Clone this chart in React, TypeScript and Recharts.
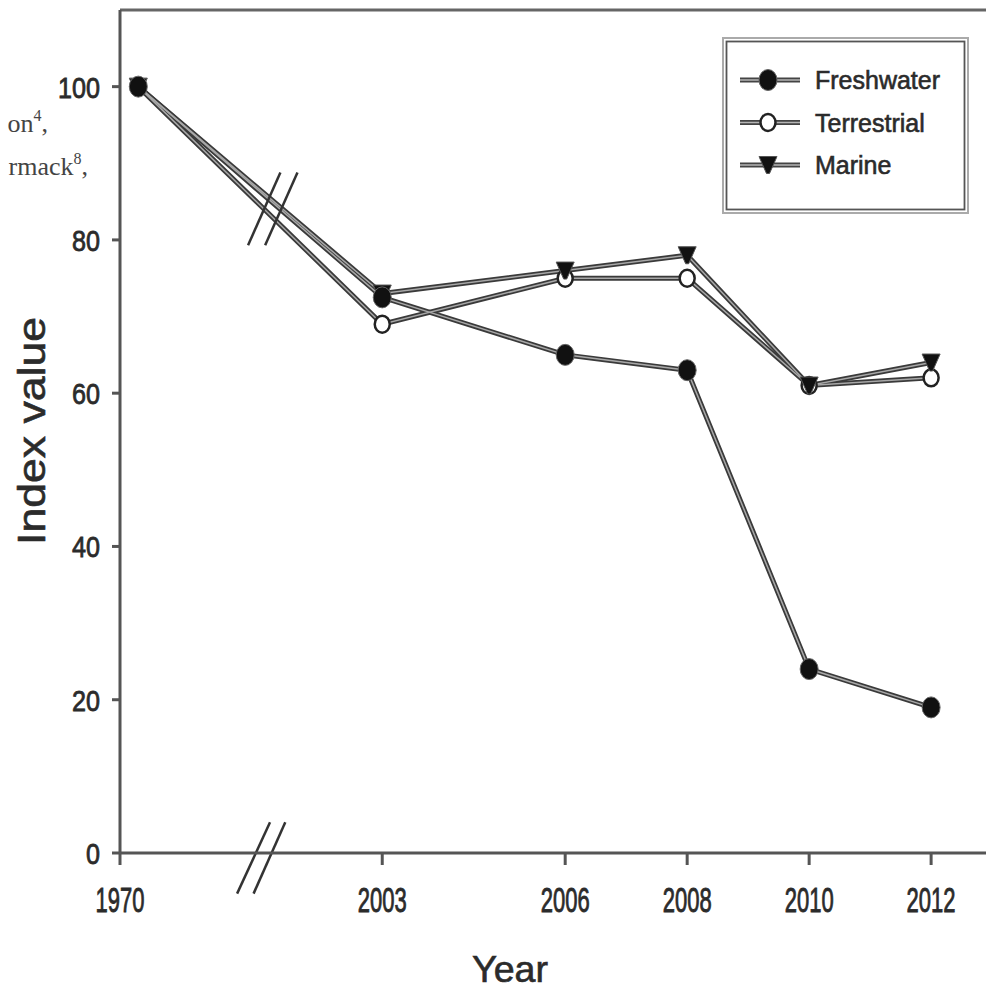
import React from "react";
import { Legend, Line, LineChart, ReferenceLine, XAxis, YAxis } from "recharts";

// positions on the x axis: 1970 sits just right of the axis break
const yearLabels = ["1970", "2003", "2006", "2008", "2010", "2012"];
const xPositions = [1999, 2003, 2006, 2008, 2010, 2012];
const tickPositions = [1998.7, 2003, 2006, 2008, 2010, 2012];
const yTicks = [0, 20, 40, 60, 80, 100];

const freshwater = [100, 72.5, 65, 63, 24, 19];
const terrestrial = [100, 69, 75, 75, 61, 62];
const marine = [100, 73, 76, 78, 61, 64];

// axis-break slashes, in data units
const lineBreak = [
  [2000.8, 79.3, 2001.33, 88.8],
  [2001.08, 79.3, 2001.61, 88.8],
];
const axisBreak = [
  [2000.62, -5.3, 2001.16, 4],
  [2000.89, -5.3, 2001.41, 4],
];

type Marker = "filled" | "open" | "triangle";

const series: { key: string; name: string; marker: Marker }[] = [
  { key: "terrestrial", name: "Terrestrial", marker: "open" },
  { key: "marine", name: "Marine", marker: "triangle" },
  { key: "freshwater", name: "Freshwater", marker: "filled" },
];
const legendOrder = ["freshwater", "terrestrial", "marine"];

const data = xPositions.map((x, i) => ({
  x,
  year: yearLabels[i],
  freshwater: freshwater[i],
  terrestrial: terrestrial[i],
  marine: marine[i],
}));

const FONT = "'Liberation Sans', Arial, Helvetica, sans-serif";
const INK = "#2b2b2b";

function MarkerShape({ type, cx, cy }: { type: Marker; cx: number; cy: number }) {
  if (type === "filled") {
    return <ellipse cx={cx} cy={cy} rx={9} ry={10.5} fill="#111" stroke="#666" strokeWidth={1} />;
  }
  if (type === "open") {
    return <ellipse cx={cx} cy={cy} rx={7.5} ry={8.5} fill="#fff" stroke="#222" strokeWidth={2.5} />;
  }
  return (
    <path
      d={`M${cx - 9},${cy - 8.5} L${cx + 9},${cy - 8.5} L${cx + 1.5},${cy + 8.5} L${cx - 1.5},${cy + 8.5} Z`}
      fill="#111"
      stroke="#555"
      strokeWidth={1}
      strokeLinejoin="round"
    />
  );
}

function XTick({ x, y, payload }: any) {
  const i = tickPositions.indexOf(payload.value);
  return (
    <text
      x={x}
      y={y + 47}
      textAnchor="middle"
      fontFamily={FONT}
      fontSize={35}
      textLength={49}
      lengthAdjust="spacingAndGlyphs"
      fill={INK}
      stroke={INK}
      strokeWidth={0.9}
    >
      {yearLabels[i]}
    </text>
  );
}

function YTick({ x, y, payload }: any) {
  const label = String(payload.value);
  return (
    <text
      x={x}
      y={y + 11}
      textAnchor="end"
      fontFamily={FONT}
      fontSize={30}
      textLength={label.length * 14}
      lengthAdjust="spacingAndGlyphs"
      fill={INK}
      stroke={INK}
      strokeWidth={0.8}
    >
      {label}
    </text>
  );
}

function LegendBox() {
  const rows = legendOrder.map((k) => series.find((s) => s.key === k)!);
  return (
    <svg width={247} height={177} style={{ display: "block" }}>
      <rect x={1} y={1} width={245} height={175} fill="#fff" stroke="#aaa" strokeWidth={2} />
      <rect x={4.5} y={4.5} width={238} height={168} fill="none" stroke="#555" strokeWidth={1.8} />
      {rows.map((s, i) => {
        const cy = 43 + i * 42.5;
        return (
          <g key={s.key}>
            <line x1={18} x2={78} y1={cy} y2={cy} stroke="#444" strokeWidth={5} />
            <line x1={18} x2={78} y1={cy} y2={cy} stroke="#b5b5b5" strokeWidth={1.5} />
            <MarkerShape type={s.marker} cx={46} cy={cy} />
            <text x={93} y={cy + 9} fontFamily={FONT} fontSize={25} fill={INK} stroke={INK} strokeWidth={0.6}>
              {s.name}
            </text>
          </g>
        );
      })}
    </svg>
  );
}

export default function App() {
  return (
    <div style={{ position: "absolute", left: 0, top: 0, width: 986, height: 993, overflow: "hidden", background: "#fff" }}>
      <LineChart width={986} height={993} data={data} margin={{ top: 10, right: 0, bottom: 0, left: 0 }}>
        <XAxis
          type="number"
          dataKey="x"
          domain={[1998.7, 2012.9]}
          ticks={tickPositions}
          allowDataOverflow
          height={140}
          tickSize={12}
          tickMargin={0}
          stroke="#555"
          strokeWidth={3}
          tick={<XTick />}
        />
        <YAxis
          type="number"
          domain={[0, 110]}
          ticks={yTicks}
          allowDataOverflow
          width={120}
          tickSize={8}
          tickMargin={12}
          stroke="#555"
          strokeWidth={3}
          tick={<YTick />}
        />
        <ReferenceLine y={110} stroke="#666" strokeWidth={3} ifOverflow="visible" />
        {axisBreak.map(([x1, y1, x2, y2], i) => (
          <ReferenceLine
            key={`ab${i}`}
            segment={[{ x: x1, y: y1 }, { x: x2, y: y2 }]}
            stroke="#333"
            strokeWidth={2.5}
            ifOverflow="visible"
          />
        ))}
        {series.map((s) => (
          <Line
            key={`${s.key}-outer`}
            dataKey={s.key}
            stroke="#3a3a3a"
            strokeWidth={5}
            dot={false}
            activeDot={false}
            legendType="none"
            isAnimationActive={false}
          />
        ))}
        {series.map((s) => (
          <Line
            key={`${s.key}-inner`}
            dataKey={s.key}
            name={s.name}
            stroke="#a8a8a8"
            strokeWidth={1.5}
            activeDot={false}
            isAnimationActive={false}
            dot={(p: any) => <MarkerShape key={`${s.key}-dot-${p.index}`} type={s.marker} cx={p.cx} cy={p.cy} />}
          />
        ))}
        {lineBreak.map(([x1, y1, x2, y2], i) => (
          <ReferenceLine
            key={`lb${i}`}
            segment={[{ x: x1, y: y1 }, { x: x2, y: y2 }]}
            stroke="#333"
            strokeWidth={2.5}
            ifOverflow="visible"
          />
        ))}
        <Legend
          layout="vertical"
          align="center"
          verticalAlign="middle"
          content={() => <LegendBox />}
          wrapperStyle={{ position: "absolute", left: 722, top: 37, width: 247, height: 177 }}
        />
      </LineChart>
      <svg
        width={986}
        height={993}
        style={{ position: "absolute", left: 0, top: 0, pointerEvents: "none" }}
      >
        <text x={48} y={132} textAnchor="end" fontFamily="'Liberation Serif', 'Times New Roman', serif" fontSize={26} fill="#444">
          on<tspan dy={-11} fontSize={16}>4</tspan>
          <tspan dy={11}>,</tspan>
        </text>
        <text x={88} y={175} textAnchor="end" fontFamily="'Liberation Serif', 'Times New Roman', serif" fontSize={26} fill="#444">
          rmack<tspan dy={-11} fontSize={16}>8</tspan>
          <tspan dy={11}>,</tspan>
        </text>
        <text
          transform="translate(45,431) rotate(-90)"
          textAnchor="middle"
          fontFamily={FONT}
          fontSize={38}
          textLength={228}
          lengthAdjust="spacingAndGlyphs"
          fill={INK}
          stroke={INK}
          strokeWidth={0.6}
        >
          Index value
        </text>
        <text
          x={510}
          y={982}
          textAnchor="middle"
          fontFamily={FONT}
          fontSize={36}
          textLength={76}
          lengthAdjust="spacingAndGlyphs"
          fill={INK}
          stroke={INK}
          strokeWidth={0.6}
        >
          Year
        </text>
      </svg>
    </div>
  );
}
